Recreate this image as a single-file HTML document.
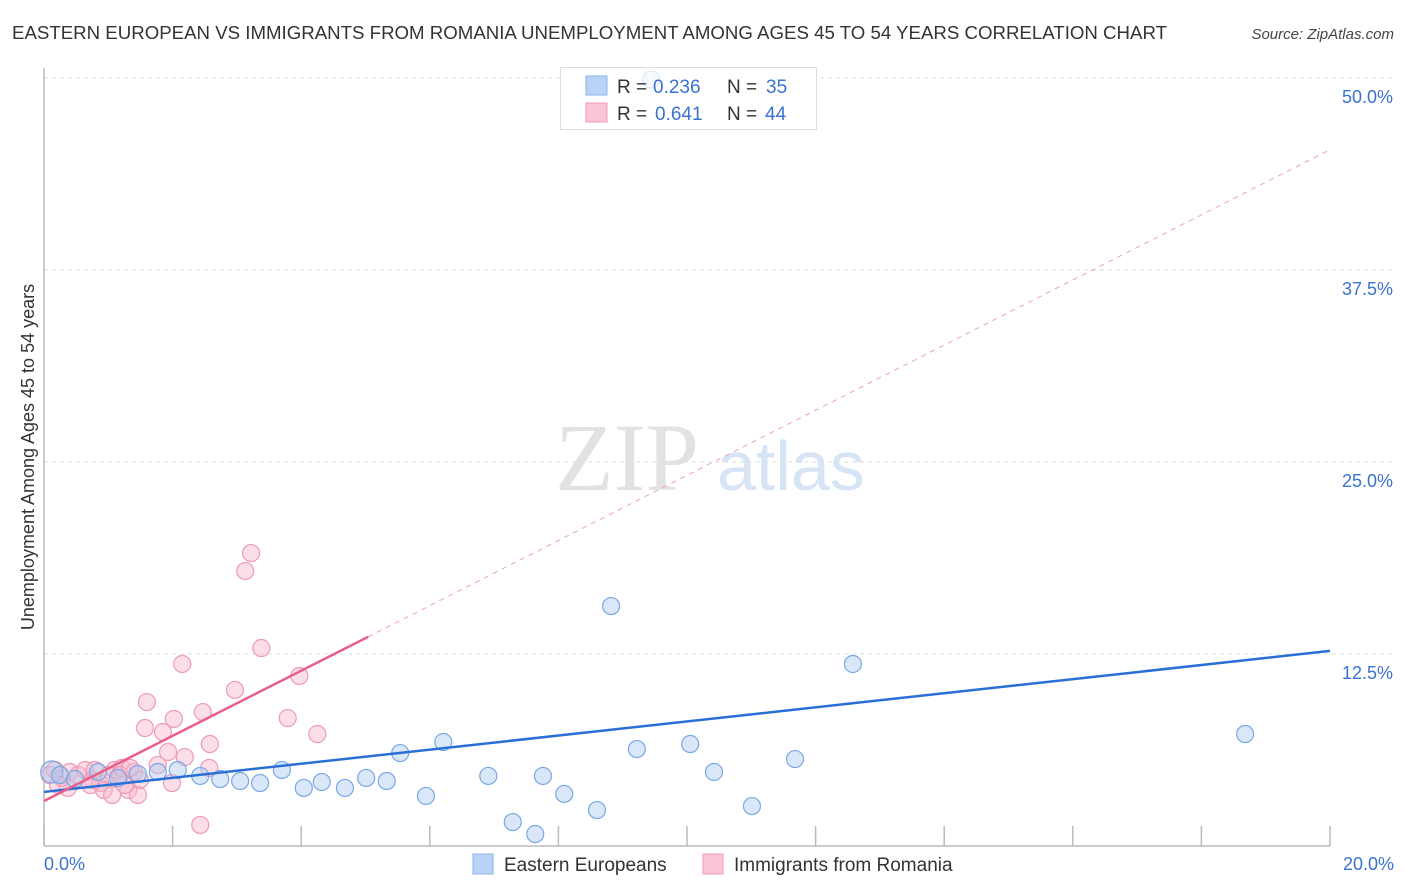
<!DOCTYPE html>
<html><head><meta charset="utf-8">
<style>
body{margin:0;background:#fff;font-family:"Liberation Sans",sans-serif;}
svg{display:block}
</style></head>
<body>
<svg id="chart" width="1406" height="892" viewBox="0 0 1406 892">
<text x="12" y="39" font-size="18" fill="#333" textLength="1155" lengthAdjust="spacingAndGlyphs">EASTERN EUROPEAN VS IMMIGRANTS FROM ROMANIA UNEMPLOYMENT AMONG AGES 45 TO 54 YEARS CORRELATION CHART</text>
<text x="1394" y="39" font-size="15" fill="#444" font-style="italic" text-anchor="end">Source: ZipAtlas.com</text>
<text x="0" y="0" transform="translate(34,457) rotate(-90)" font-size="18" fill="#333" text-anchor="middle">Unemployment Among Ages 45 to 54 years</text>
<g>
<text x="555" y="490" font-size="96" font-family="Liberation Serif,serif" fill="#e2e2e2">ZIP</text>
<text x="717" y="490" font-size="70" fill="#d6e4f5">atlas</text>
</g>
<g id="grid"></g>
<g id="axes"></g>
<g id="marks"></g>
<g>
<rect x="560.5" y="67.5" width="256" height="62" fill="rgba(255,255,255,0.75)" stroke="#ddd"/>
<rect x="586" y="76" width="21" height="19" fill="#b8d3f5" stroke="#8ab4ea"/>
<rect x="586" y="103" width="21" height="19" fill="#fac6d5" stroke="#f19ab5"/>
<text x="617" y="93" font-size="19" fill="#333">R =<tspan x="653" fill="#3a73d0">0.236</tspan><tspan x="727">N =</tspan><tspan x="766" fill="#3a73d0">35</tspan></text>
<text x="617" y="120" font-size="19" fill="#333">R =<tspan x="655" fill="#3a73d0">0.641</tspan><tspan x="727">N =</tspan><tspan x="765" fill="#3a73d0">44</tspan></text>
</g>
<g>
<rect x="473" y="854" width="20" height="20" fill="#b8d3f5" stroke="#8ab4ea"/>
<text x="504" y="871" font-size="19" fill="#333">Eastern Europeans</text>
<rect x="703" y="854" width="20" height="20" fill="#fac6d5" stroke="#f19ab5"/>
<text x="734" y="871" font-size="19" fill="#333">Immigrants from Romania</text>
</g>
</svg>
<script>
const blueX=[0.12,0.25,0.48,0.84,1.15,1.46,1.77,2.08,2.43,2.74,3.05,3.36,3.70,4.04,4.32,4.68,5.01,5.33,5.54,5.94,6.21,6.91,7.29,7.64,7.76,8.09,8.60,8.82,9.22,10.05,10.42,11.01,11.68,12.58,18.68,9.44];
const blueY=[4.82,4.62,4.36,4.82,4.43,4.69,4.82,4.95,4.56,4.36,4.23,4.10,4.95,3.78,4.17,3.78,4.43,4.23,6.05,3.26,6.77,4.56,1.56,0.78,4.56,3.39,2.34,15.62,6.31,6.64,4.82,2.60,5.66,11.85,7.29,49.9];
const pinkX=[0.09,0.17,0.28,0.40,0.53,0.64,0.75,0.87,1.00,1.10,1.21,1.31,1.40,1.46,1.57,1.60,1.77,1.85,1.93,2.02,1.99,2.15,2.19,2.47,2.43,2.58,2.57,2.97,3.13,3.22,3.38,3.79,3.97,4.25,0.93,1.06,0.72,1.26,0.79,0.22,0.37,1.18,1.49,1.34];
const pinkY=[4.62,4.95,4.43,4.82,4.62,4.95,4.30,4.10,4.62,4.95,5.08,3.65,4.82,3.32,7.68,9.37,5.27,7.42,6.12,8.27,4.10,11.85,5.79,8.72,1.37,6.64,5.08,10.16,17.90,19.07,12.89,8.33,11.07,7.29,3.65,3.32,3.97,3.97,4.95,3.97,3.78,4.62,4.30,5.08];
const blueTrend=[3.52,0.459];
const pinkTrend=[2.93,2.12];
const yTicks=[12.5,25,37.5,50];
const yTickLabels=["12.5%","25.0%","37.5%","50.0%"];
const xTicks=[0,2,4,6,8,10,12,14,16,18,20];

const NS="http://www.w3.org/2000/svg";
const X=v=>44+v/20*1286;
const Y=v=>846-v/12.5*192;
function mk(t,a,p){const e=document.createElementNS(NS,t);for(const k in a)e.setAttribute(k,a[k]);p.appendChild(e);return e;}
const grid=document.getElementById('grid'),axes=document.getElementById('axes'),marks=document.getElementById('marks');
yTicks.forEach((t,i)=>{
 const l=mk('line',{x1:44,x2:1394,y1:Y(t),y2:Y(t),stroke:'#ddd','stroke-dasharray':'4,4'},grid);
 
 
 const tx=mk('text',{x:1393,y:Y(t)+25,'font-size':18,fill:'#3a73d0','text-anchor':'end'},axes);
 tx.textContent=yTickLabels[i];
 
 
});
const ax=mk('line',{x1:44,x2:44,y1:68,y2:846,stroke:'#bbb','stroke-width':1.5},axes);


const bx=mk('line',{x1:44,x2:1330,y1:846,y2:846,stroke:'#bbb','stroke-width':1.5},axes);


xTicks.forEach(t=>{
 const l=mk('line',{x1:X(t),x2:X(t),y1:826,y2:846,stroke:'#bbb','stroke-width':1.5},axes);
 
 
});
const x0=mk('text',{x:44,y:870,'font-size':18,fill:'#3a73d0'},axes);x0.textContent='0.0%';


const x1=mk('text',{x:1394,y:870,'font-size':18,fill:'#3a73d0','text-anchor':'end'},axes);x1.textContent='20.0%';


pinkX.forEach((v,i)=>{
 const c=mk('circle',{cx:X(v),cy:Y(pinkY[i]),r:8.5,fill:'rgba(248,182,203,0.45)',stroke:'#ee9ab4','stroke-width':1.2},marks);
 
 
});
blueX.forEach((v,i)=>{
 const c=mk('circle',{cx:X(v),cy:Y(blueY[i]),r:i===0?11:8.5,fill:'rgba(170,202,240,0.45)',stroke:'#7aa8e6','stroke-width':1.2},marks);
 
 
});
const bt=mk('line',{x1:X(0),y1:Y(blueTrend[0]),x2:X(20),y2:Y(blueTrend[0]+blueTrend[1]*20),stroke:'#2a6fd6','stroke-width':2.5},marks);


const pt=mk('line',{x1:X(0),y1:Y(pinkTrend[0]),x2:X(5.04),y2:Y(pinkTrend[0]+pinkTrend[1]*5.04),stroke:'#e8608a','stroke-width':2.5},marks);


const pd=mk('line',{x1:X(5.04),y1:Y(pinkTrend[0]+pinkTrend[1]*5.04),x2:X(20),y2:Y(pinkTrend[0]+pinkTrend[1]*20),stroke:'#eba3b9','stroke-width':1,'stroke-dasharray':'5,5'},marks);


</script>
</body></html>
